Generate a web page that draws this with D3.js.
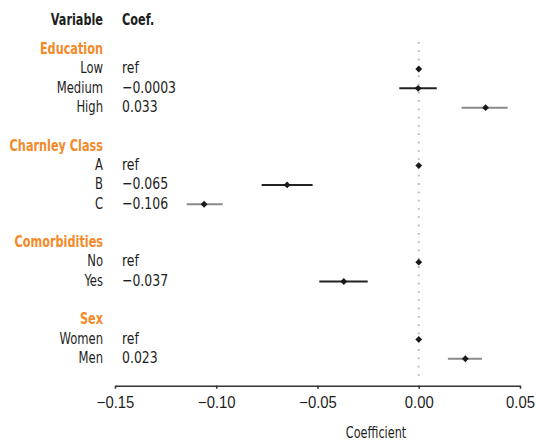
<!DOCTYPE html>
<html>
<head>
<meta charset="utf-8">
<script src="https://cdn.jsdelivr.net/npm/d3@7"></script>
<style>
  html, body { margin: 0; padding: 0; background: #fff; }
  svg { display: block; font-family: "DejaVu Sans Condensed", "DejaVu Sans", sans-serif; }
</style>
</head>
<body>
<svg id="chart" width="536" height="440"></svg>
<script>
// Regression coefficients with confidence intervals, grouped by variable
const variables = ["Education", "Charnley Class", "Comorbidities", "Sex"];
const levels = [
  ["Low", "Medium", "High"],
  ["A", "B", "C"],
  ["No", "Yes"],
  ["Women", "Men"]
];
const coefs = [
  [0, -0.0003, 0.033],
  [0, -0.065, -0.106],
  [0, -0.037],
  [0, 0.023]
];
const coefLabels = [
  ["ref", "\u22120.0003", "0.033"],
  ["ref", "\u22120.065", "\u22120.106"],
  ["ref", "\u22120.037"],
  ["ref", "0.023"]
];
// null marks a reference level (no interval)
const ciLower = [
  [null, -0.0096, 0.0212],
  [null, -0.0776, -0.1146],
  [null, -0.0491],
  [null, 0.0144]
];
const ciUpper = [
  [null, 0.0089, 0.0439],
  [null, -0.0524, -0.0968],
  [null, -0.0252],
  [null, 0.0312]
];
// interval tone: 1 = dark, 2 = grey
const tone = [
  [0, 1, 2],
  [0, 1, 2],
  [0, 1],
  [0, 2]
];
const xTicks = [-0.15, -0.10, -0.05, 0.00, 0.05];

const svg = d3.select("#chart");
const orange = "#f28a2a";
const ink = "#1e1e1e";
const FS = 16.5;

// Condensed text: horizontally squeezed around its anchor point
function label(parent, x, y, str, o = {}) {
  return parent.append("text")
    .attr("transform", `translate(${x},${y}) scale(${o.sx || 0.78},1)`)
    .attr("text-anchor", o.anchor || "start")
    .attr("font-size", o.size || FS)
    .attr("font-weight", o.bold ? "bold" : "normal")
    .attr("fill", o.fill || ink)
    .text(str);
}

// Flatten groups into vertical slots: header, levels, blank spacer
const slots = [];
variables.forEach((v, g) => {
  slots.push({ type: "header", text: v });
  levels[g].forEach((lv, i) => {
    slots.push({
      type: "row", text: lv, coef: coefs[g][i], label: coefLabels[g][i],
      lo: ciLower[g][i], hi: ciUpper[g][i], tone: tone[g][i]
    });
  });
  if (g < variables.length - 1) slots.push({ type: "spacer" });
});
slots.forEach((s, i) => s.slot = i);

const y = d3.scalePoint().domain(slots.map(s => s.slot)).range([49.7, 358.7]);
const x = d3.scaleLinear().domain([-0.15, 0.05]).range([115, 520]);
const base = 4.3;

// Column headers
label(svg, 103, 25, "Variable", { anchor: "end", bold: true, sx: 0.76 });
label(svg, 122, 25, "Coef.", { bold: true, sx: 0.76 });

// Zero reference line
svg.append("line")
  .attr("x1", x(0)).attr("x2", x(0))
  .attr("y1", 42).attr("y2", 376)
  .attr("stroke", "#bdbdbd").attr("stroke-width", 2)
  .attr("stroke-dasharray", "1.8,6.5");

// Group headers
slots.filter(s => s.type === "header").forEach(s =>
  label(svg, 103, y(s.slot) + base, s.text, { anchor: "end", bold: true, fill: orange, sx: 0.76 }));

const rows = slots.filter(s => s.type === "row");

// Level names and coefficient values
rows.forEach(s => {
  label(svg, 103, y(s.slot) + base, s.text, { anchor: "end", sx: 0.78 });
  label(svg, 122, y(s.slot) + base, s.label, { sx: 0.84 });
});

// Confidence intervals
svg.selectAll("line.ci").data(rows.filter(s => s.lo !== null)).join("line")
  .attr("class", "ci")
  .attr("x1", s => x(s.lo)).attr("x2", s => x(s.hi))
  .attr("y1", s => y(s.slot)).attr("y2", s => y(s.slot))
  .attr("stroke", s => s.tone === 2 ? "#8a8a8a" : "#222")
  .attr("stroke-width", 2);

// Point estimates
const diamond = d3.symbol().type(d3.symbolDiamond2).size(30);
svg.selectAll("path.pt").data(rows).join("path")
  .attr("class", "pt")
  .attr("d", diamond)
  .attr("transform", s => `translate(${x(s.coef)},${y(s.slot)})`)
  .attr("fill", "#1a1a1a");

// Axis
const fmt = v => (v < 0 ? "\u2212" : "") + Math.abs(v).toFixed(2);
const axis = svg.append("g").attr("transform", "translate(0,385.7)")
  .call(d3.axisBottom(x).tickValues(xTicks).tickFormat(fmt).tickSize(3).tickSizeOuter(0));
axis.select(".domain").attr("stroke", "#333").attr("stroke-width", 1.6);
axis.selectAll(".tick line").attr("stroke", "#333").attr("stroke-width", 1.6);
axis.selectAll(".tick text").remove();
axis.selectAll(".tick").each(function (d) {
  label(d3.select(this), 0, 22.5, fmt(d), { anchor: "middle", sx: 0.9 });
});

label(svg, 376, 438, "Coefficient", { anchor: "middle", sx: 0.76 });
</script>
</body>
</html>
